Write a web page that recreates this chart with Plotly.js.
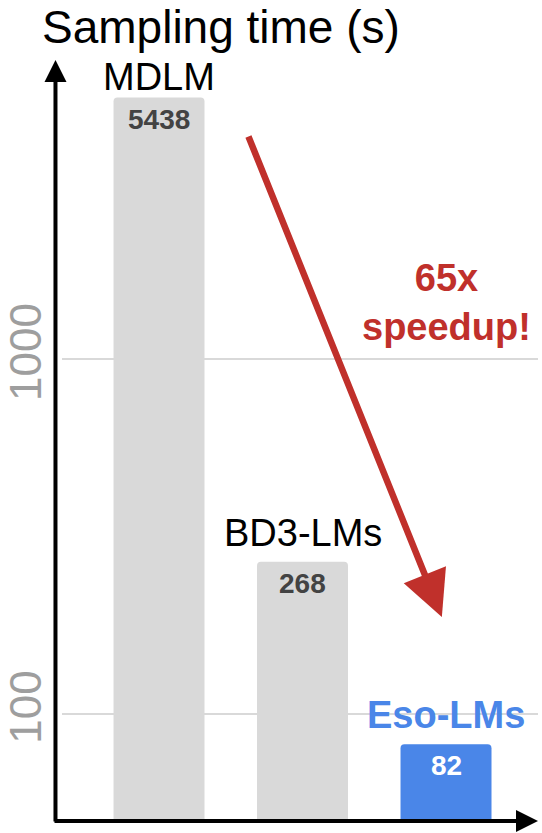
<!DOCTYPE html>
<html>
<head>
<meta charset="utf-8">
<script src="https://cdn.plot.ly/plotly-3.0.1.min.js"></script>
<style>
  html, body { margin: 0; padding: 0; background: #fff; }
  #chart { width: 542px; height: 833px; }
</style>
</head>
<body>
<div id="chart"></div>
<script>
// Chart data
const categories = ['MDLM', 'BD3-LMs', 'Eso-LMs'];
const samplingTimes = [5438, 268, 82];
const valueLabels = ['5438', '268', '82'];
const tickValues = [100, 1000];
const tickLabels = ['100', '1000'];

// Styles (kept apart from the data)
const barColors = ['#d9d9d9', '#d9d9d9', '#4a86e8'];
const nameColors = ['#000000', '#000000', '#4a86e8'];
const nameBold = [false, false, true];
const nameShift = [-2, 6, 6];   // MDLM sits close under the title
const valueColors = ['#434343', '#434343', '#ffffff'];
const FONT = 'Arial, "Liberation Sans", sans-serif';
const RED = '#c0302b';

function buildAnnotations() {
    const notes = [];

    // bar names above and values inside each bar
    categories.forEach((cat, i) => {
        const ly = Math.log10(samplingTimes[i]);
        notes.push({
            x: cat, y: ly, xref: 'x', yref: 'y',
            text: nameBold[i] ? '<b>' + cat + '</b>' : cat,
            showarrow: false, xanchor: 'center', yanchor: 'bottom', yshift: nameShift[i],
            font: { family: FONT, size: 38, color: nameColors[i] }
        });
        notes.push({
            x: cat, y: ly, xref: 'x', yref: 'y',
            text: '<b>' + valueLabels[i] + '</b>',
            showarrow: false, xanchor: 'center', yanchor: 'top', yshift: -4,
            font: { family: FONT, size: 28, color: valueColors[i] }
        });
    });

    // axis arrows
    notes.push({
        x: -0.0137, y: 0.9935, xref: 'paper', yref: 'paper',
        ax: 0, ay: 763, axref: 'pixel', ayref: 'pixel',
        text: '', showarrow: true, arrowhead: 2, arrowsize: 1.1,
        arrowwidth: 4, arrowcolor: '#000'
    });
    notes.push({
        x: 1.0, y: 0, xref: 'paper', yref: 'paper',
        ax: -485, ay: 0, axref: 'pixel', ayref: 'pixel',
        text: '', showarrow: true, arrowhead: 2, arrowsize: 1.1,
        arrowwidth: 4, arrowcolor: '#000'
    });

    // speedup arrow and text
    notes.push({
        x: 0.798, y: 0.2663, xref: 'paper', yref: 'paper',
        ax: -194, ay: -482, axref: 'pixel', ayref: 'pixel',
        text: '', showarrow: true, arrowhead: 2, arrowsize: 1.4,
        arrowwidth: 6.5, arrowcolor: RED
    });
    notes.push({
        x: 0.807, y: 0.6775, xref: 'paper', yref: 'paper',
        xanchor: 'center', yanchor: 'middle',
        text: '<b>65x<br>speedup!</b>', showarrow: false,
        font: { family: FONT, size: 38, color: RED }
    });

    return notes;
}

function drawChart() {
    const trace = {
        type: 'bar',
        x: categories,
        y: samplingTimes,
        width: 0.634,
        marker: { color: barColors, cornerradius: 4 },
        hoverinfo: 'x+y'
    };

    const layout = {
        width: 542,
        height: 833,
        margin: { l: 62, r: 4, t: 55, b: 12 },
        paper_bgcolor: '#fff',
        plot_bgcolor: '#fff',
        showlegend: false,
        title: {
            text: 'Sampling time (s)',
            x: 42 / 542, xanchor: 'left', xref: 'container',
            y: 1 - 27 / 833, yanchor: 'middle', yref: 'container',
            font: { family: FONT, size: 46, color: '#000' }
        },
        xaxis: {
            type: 'category',
            range: [-0.676, 2.641],
            showticklabels: false,
            showgrid: false,
            zeroline: false,
            showline: false,
            ticks: ''
        },
        yaxis: {
            type: 'log',
            range: [1.6975, 3.8555],
            tickvals: tickValues,
            ticktext: tickLabels,
            tickangle: -90,
            ticklabelstandoff: 11,
            tickfont: { family: FONT, size: 44, color: '#9e9e9e' },
            showgrid: true,
            gridcolor: '#d9d9d9',
            gridwidth: 2,
            zeroline: false,
            showline: false,
            ticks: ''
        },
        annotations: buildAnnotations()
    };

    Plotly.newPlot('chart', [trace], layout, { displayModeBar: false, staticPlot: true });
}

document.addEventListener('DOMContentLoaded', () => {
    drawChart();
});
</script>
</body>
</html>
